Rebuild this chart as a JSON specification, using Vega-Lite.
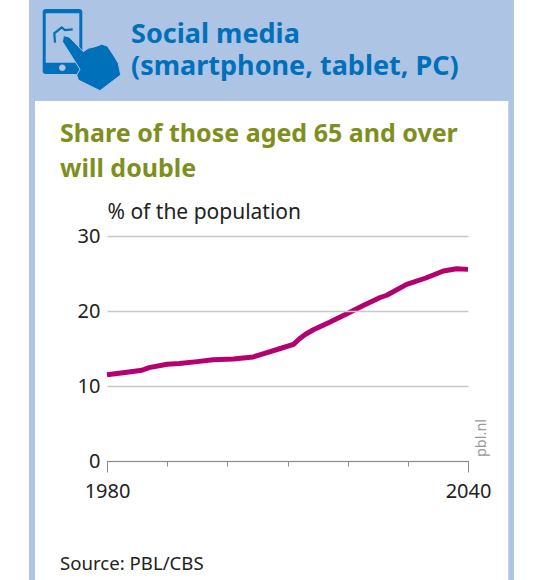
{"$schema":"https://vega.github.io/schema/vega-lite/v6.json","width":361,"height":225,"padding":{"left":107,"top":236,"right":79,"bottom":119},"autosize":{"type":"none"},"background":"white","view":{"stroke":null},
"datasets":{"pop":[{"year":1980,"share":11.5},{"year":1983,"share":11.8},{"year":1985.8,"share":12.1},{"year":1987,"share":12.45},{"year":1990,"share":12.9},{"year":1992,"share":13.0},{"year":1995,"share":13.25},{"year":1997.6,"share":13.5},{"year":2001,"share":13.6},{"year":2004.3,"share":13.87},{"year":2006.6,"share":14.45},{"year":2008.8,"share":15.0},{"year":2011,"share":15.55},{"year":2012,"share":16.3},{"year":2013,"share":16.9},{"year":2014.3,"share":17.5},{"year":2017,"share":18.5},{"year":2019.8,"share":19.6},{"year":2022.5,"share":20.7},{"year":2025.4,"share":21.8},{"year":2026.5,"share":22.1},{"year":2029.8,"share":23.55},{"year":2033,"share":24.4},{"year":2035.9,"share":25.33},{"year":2038.1,"share":25.64},{"year":2040,"share":25.55}]},
"layer":[
{"data":{"values":[{"x0":1967.04,"x1":2047.64,"y0":-15.9,"y1":61.5,"c":"blue"},{"x0":1968.03,"x1":2046.7,"y0":-15.9,"y1":48,"c":"white"}]},"mark":{"type":"rect","clip":false},"encoding":{"x":{"field":"x0","type":"quantitative","scale":{"domain":[1980,2040],"nice":false,"zero":false},"axis":{"title":null,"values":[1980,1990,2000,2010,2020,2030,2040],"grid":false,"domainColor":"#8c8c8c","tickColor":"#8c8c8c","tickSize":{"expr":"datum.value==1980||datum.value==2040?11:5"},"labelExpr":"datum.value==1980||datum.value==2040?datum.label:''","format":"d","labelFont":"Noto Sans","labelFontSize":20,"labelColor":"#222222","labelPadding":9,"labelAngle":0,"labelOverlap":false,"labelFlush":false,"zindex":1}},"x2":{"field":"x1"},"y":{"field":"y0","type":"quantitative","scale":{"domain":[0,30],"nice":false},"axis":{"title":"% of the population","titleAngle":0,"titleAlign":"left","titleBaseline":"alphabetic","titleX":0,"titleY":-18,"titleFont":"Noto Sans","titleFontSize":21,"titleFontWeight":"normal","titleColor":"#222222","values":[0,10,20,30],"domain":false,"ticks":false,"grid":true,"gridColor":"#c8c8c8","gridWidth":1.5,"labelFont":"Noto Sans","labelFontSize":20,"labelColor":"#222222","labelPadding":7,"zindex":1}},"y2":{"field":"y1"},"color":{"field":"c","type":"nominal","scale":{"domain":["blue","white"],"range":["#adc4e4","#ffffff"]},"legend":null}}},
{"data":{"name":"pop"},"mark":{"type":"line","color":"#b5006f","strokeWidth":5,"strokeCap":"butt","strokeJoin":"round","interpolate":"linear","clip":false},"encoding":{"x":{"field":"year","type":"quantitative"},"y":{"field":"share","type":"quantitative"}}},
{"data":{"values":[{"year":1975.18,"v":54.8}]},"mark":{"type":"point","filled":true,"opacity":1,"size":4,"color":"#0070bb","clip":false,"shape":"M-32,-41 H1 Q4.3,-41 4.3,-37.7 V20.7 Q4.3,24 1,24 H-32 Q-35.3,24 -35.3,20.7 V-37.7 Q-35.3,-41 -32,-41 Z M-32.3,-36.7 V12.7 H1.3 V-36.7 Z M-19,17.7 a3.3,3.3 0 1 0 6.6,0 a3.3,3.3 0 1 0 -6.6,0 Z"},"encoding":{"x":{"field":"year","type":"quantitative"},"y":{"field":"v","type":"quantitative"}}},
{"data":{"values":[{"year":1975.18,"v":54.8}]},"mark":{"type":"point","filled":false,"opacity":1,"size":4,"stroke":"#0070bb","strokeWidth":2.2,"fill":null,"clip":false,"shape":"M-23,-7.3 L-23.7,-16.7 L-16.3,-22.7 L-13,-20 L-5.3,-20.7"},"encoding":{"x":{"field":"year","type":"quantitative"},"y":{"field":"v","type":"quantitative"}}},
{"data":{"values":[{"year":1975.18,"v":54.8}]},"mark":{"type":"point","filled":true,"opacity":1,"size":4,"fill":"#0070bb","stroke":"#adc4e4","strokeWidth":1,"clip":false,"shape":"M-14.5,-14.5 L-8.7,-12.8 L5.3,1.7 L10.3,-1.7 L17,-3.3 L23.7,-5.7 L29.3,-4 L35.3,5 L40.3,13.3 L42.7,25 L22,40.7 L0.3,30 L-1.3,25 L2,19.3 L-15.5,-8.3 Z"},"encoding":{"x":{"field":"year","type":"quantitative"},"y":{"field":"v","type":"quantitative"}}},
{"data":{"values":[{"year":2042.3,"v":3.07,"t":"pbl.nl"}]},"mark":{"type":"text","angle":270,"font":"Noto Sans","fontSize":14.5,"color":"#999999","align":"center","baseline":"middle","clip":false},"encoding":{"x":{"field":"year","type":"quantitative"},"y":{"field":"v","type":"quantitative"},"text":{"field":"t"}}},
{"data":{"values":[{"year":1972.2,"v":-14.5,"t":"Source: PBL/CBS"}]},"mark":{"type":"text","font":"Noto Sans","fontSize":18.6,"color":"#222222","align":"left","baseline":"alphabetic","clip":false},"encoding":{"x":{"field":"year","type":"quantitative"},"y":{"field":"v","type":"quantitative"},"text":{"field":"t"}}},
{"data":{"values":[{"year":1972.2,"v":42.5,"t":"Share of those aged 65 and over"},{"year":1972.2,"v":37.9,"t":"will double"}]},"mark":{"type":"text","font":"Noto Sans","fontSize":25,"fontWeight":"bold","color":"#7f8f1e","align":"left","baseline":"alphabetic","clip":false},"encoding":{"x":{"field":"year","type":"quantitative"},"y":{"field":"v","type":"quantitative"},"text":{"field":"t"}}},
{"data":{"values":[{"year":1984,"v":55.8,"t":"Social media"},{"year":1984,"v":51.5,"t":"(smartphone, tablet, PC)"}]},"mark":{"type":"text","font":"Noto Sans","fontSize":27,"fontWeight":"bold","color":"#0070bb","align":"left","baseline":"alphabetic","clip":false},"encoding":{"x":{"field":"year","type":"quantitative"},"y":{"field":"v","type":"quantitative"},"text":{"field":"t"}}}
]}
